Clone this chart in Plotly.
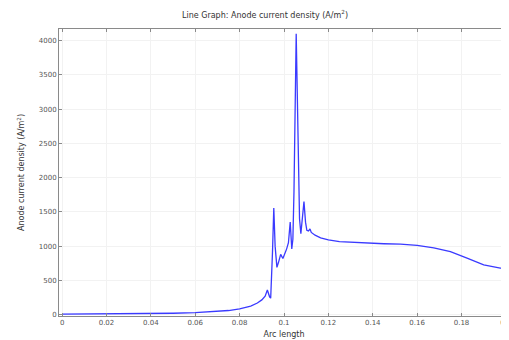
import plotly.graph_objects as go

arc_length = [0.0, 0.01, 0.02, 0.03, 0.04, 0.05, 0.06, 0.065, 0.07, 0.075, 0.08, 0.085, 0.088,
              0.09, 0.0915, 0.0925, 0.0935, 0.094, 0.0948, 0.0954, 0.096, 0.0968, 0.0975,
              0.0985, 0.0995, 0.1005, 0.1012, 0.102, 0.1028, 0.1035, 0.104, 0.1045, 0.105,
              0.1055, 0.106, 0.1065, 0.107, 0.1076, 0.1083, 0.109, 0.1097, 0.1103, 0.111,
              0.1117, 0.1123, 0.114, 0.1165, 0.12, 0.125, 0.13, 0.1375, 0.145, 0.1525,
              0.16, 0.1675, 0.175, 0.1825, 0.19, 0.1975, 0.2]
current_density = [8, 9, 10, 12, 14, 20, 28, 35, 45, 60, 85, 125, 170,
                   215, 270, 360, 260, 240, 900, 1556, 1000, 690, 760,
                   880, 820, 900, 960, 1050, 1350, 960, 1100, 1800, 3000,
                   4100, 3200, 2200, 1400, 1180, 1400, 1650, 1350, 1230, 1220,
                   1250, 1200, 1160, 1120, 1090, 1065, 1055, 1043, 1035, 1028,
                   1010, 975, 920, 825, 727, 680, 675]

x_ticks = [0, 0.02, 0.04, 0.06, 0.08, 0.1, 0.12, 0.14, 0.16, 0.18, 0.2]
x_tick_labels = ["0", "0.02", "0.04", "0.06", "0.08", "0.1", "0.12", "0.14", "0.16", "0.18", "0.2"]
y_ticks = [0, 500, 1000, 1500, 2000, 2500, 3000, 3500, 4000]

fig = go.Figure(go.Scatter(x=arc_length, y=current_density, mode="lines",
                           line=dict(color="#3a3aff", width=1.3)))

axis_common = dict(showline=True, linecolor="#8a8a8a", linewidth=1, mirror="ticks",
                   ticks="inside", ticklen=3, tickcolor="#8a8a8a",
                   showgrid=True, gridcolor="#f2f2f2", zeroline=False, automargin=False,
                   tickfont=dict(family="DejaVu Sans", size=7, color="#555"))

# page body has an 8px margin, so the figure is 8px smaller and margins shifted
fig.update_layout(
    width=501, height=332,
    margin=dict(l=51, r=0, t=21, b=24),
    paper_bgcolor="white", plot_bgcolor="white",
    showlegend=False,
    title=dict(text="Line Graph: Anode current density (A/m<sup>2</sup>)",
               x=257 / 501, xanchor="center", y=1 - 7 / 332, yanchor="middle",
               font=dict(family="DejaVu Sans", size=8, color="#333")),
    xaxis=dict(range=[-0.0014, 0.2014], tickvals=x_ticks, ticktext=x_tick_labels,
               ticklabeloverflow="allow",
               title=dict(text="Arc length", standoff=4,
                          font=dict(family="DejaVu Sans", size=8, color="#333")),
               **axis_common),
    yaxis=dict(range=[-20, 4170], tickvals=y_ticks,
               title=dict(text="Anode current density (A/m<sup>2</sup>)", standoff=12,
                          font=dict(family="DejaVu Sans", size=8, color="#333")),
               **axis_common),
)

fig.write_html("out.html")
